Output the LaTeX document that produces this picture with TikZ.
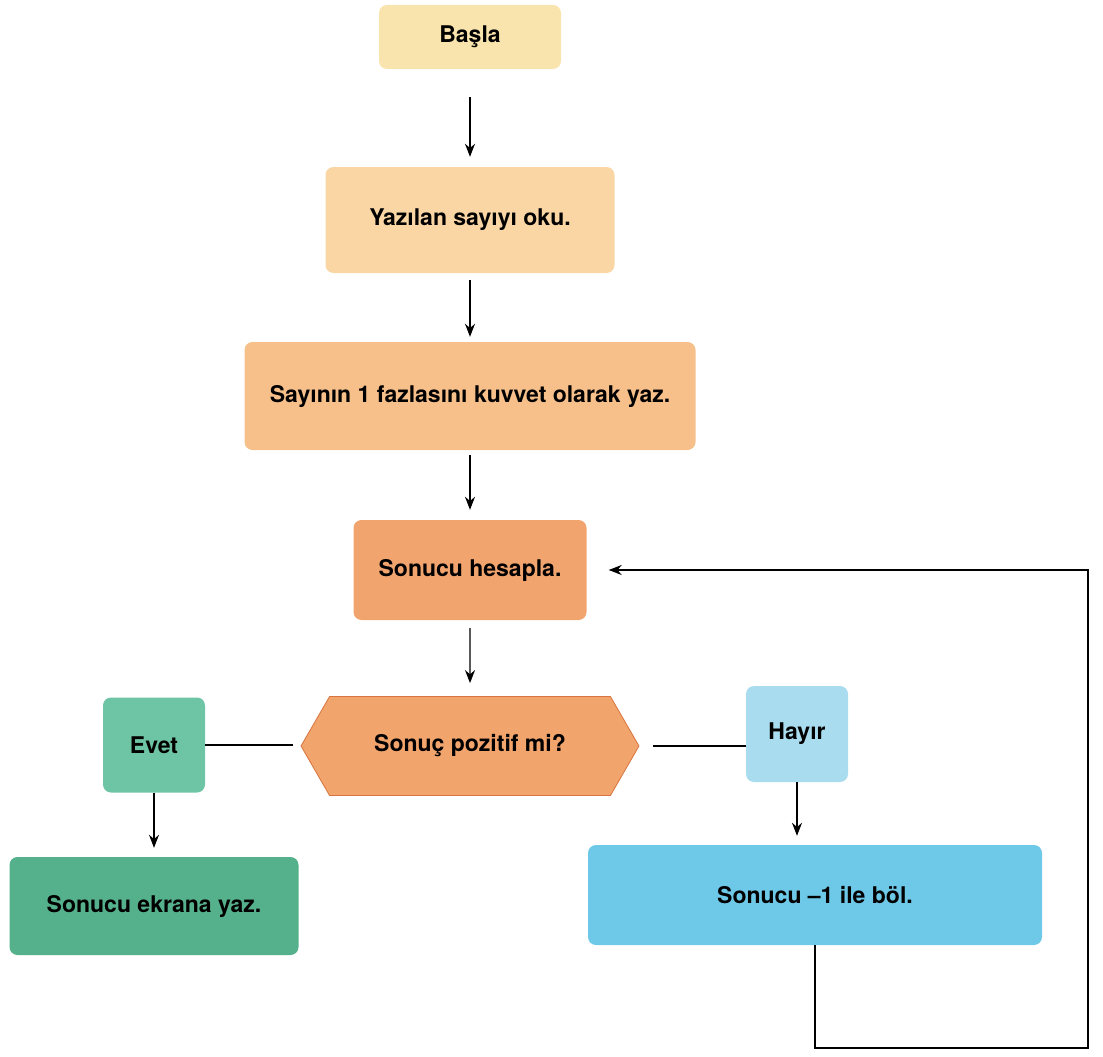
\documentclass[tikz,border=0pt]{standalone}
\usepackage{fontspec}
\setmainfont{TeX Gyre Heros}
\usepackage{xcolor}
\usetikzlibrary{arrows.meta,shapes.symbols}

\definecolor{basla}{HTML}{FAE4AE}
\definecolor{oku}{HTML}{F9D6A4}
\definecolor{kuvvet}{HTML}{F7C08A}
\definecolor{hesap}{HTML}{F2A46E}
\definecolor{soru}{HTML}{F1A46C}
\definecolor{soruline}{HTML}{D9743E}
\definecolor{evet}{HTML}{6DC5A6}
\definecolor{ekran}{HTML}{55B18C}
\definecolor{hayir}{HTML}{AADCEF}
\definecolor{bol}{HTML}{6EC8E8}

\begin{document}
\begin{tikzpicture}[x=1pt,y=-1pt,
  kutu/.style={rectangle,rounded corners=8pt,inner sep=0pt,font=\fontsize{23}{27}\selectfont\bfseries},
  ok/.style={-{Stealth[length=13pt,width=10pt]},line width=1.4pt},
  cizgi/.style={line width=1.4pt}]
\useasboundingbox(0,0)rectangle(1103,1057);
\node[kutu,fill=basla,minimum width=182pt,minimum height=64pt](basla)at(470,37){Başla};
\node[kutu,fill=oku,minimum width=289pt,minimum height=106pt](oku)at(470,220){Yazılan sayıyı oku.};
\node[kutu,fill=kuvvet,minimum width=451pt,minimum height=108pt](kuvvet)at(470,396){Sayının 1 fazlasını kuvvet olarak yaz.};
\node[kutu,fill=hesap,minimum width=233pt,minimum height=100pt](hesapla)at(470,570){Sonucu hesapla.};
\node[kutu,signal,signal to=east and west,signal pointer angle=120,rounded corners=0pt,
  fill=soru,draw=soruline,line width=0.8pt,minimum width=338pt,minimum height=99pt](soru)at(470,746){Sonuç pozitif mi?};
\node[kutu,fill=evet,minimum width=102pt,minimum height=95pt](evet)at(154,745){Evet};
\node[kutu,fill=ekran,minimum width=289pt,minimum height=98pt](ekran)at(154,906){Sonucu ekrana yaz.};
\node[kutu,fill=hayir,minimum width=102pt,minimum height=96pt](hayir)at(797,734){Hayır};
\node[kutu,fill=bol,minimum width=454pt,minimum height=100pt](bol)at(815,895){Sonucu –1 ile böl.};
\coordinate(donus1)at(815,1048);
\coordinate(donus2)at(1088,1048);
\coordinate(donus3)at(1088,570);
% akis
\draw[ok,shorten <=28pt,shorten >=10pt](basla)--(oku);
\draw[ok,shorten <=7pt,shorten >=5pt](oku)--(kuvvet);
\draw[ok,shorten <=5pt,shorten >=10pt](kuvvet)--(hesapla);
\draw[ok,shorten <=8pt,shorten >=13pt](hesapla)--(soru);
\draw[cizgi,shorten >=8pt](evet.east)--(evet.east-|soru.west);
\draw[cizgi,shorten <=14pt](soru.east)--(soru.east-|hayir.west);
\draw[ok,shorten >=9pt](evet)--(ekran);
\draw[ok,shorten >=9pt](hayir.south)--(hayir.south|-bol.north);
\draw[ok,shorten >=22pt](bol.south)--(donus1)--(donus2)--(donus3)--(hesapla.east);
\end{tikzpicture}
\end{document}
